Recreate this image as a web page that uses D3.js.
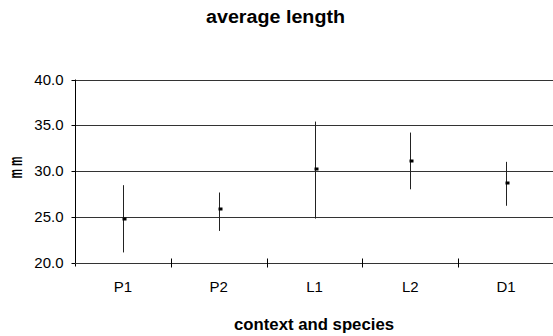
<!DOCTYPE html>
<html>
<head>
<meta charset="utf-8">
<script src="https://cdn.jsdelivr.net/npm/d3@7"></script>
<style>
  body { margin: 0; background: #fff; }
  svg { display: block; font-family: Arial, "Liberation Sans", sans-serif; }
</style>
</head>
<body>
<svg id="chart" width="553" height="336"></svg>
<script>

// values
var categories = ['P1', 'P2', 'L1', 'L2', 'D1'];
var means  = [24.8, 25.8, 30.2, 31.1, 28.7];
var uppers = [28.45, 27.65, 35.4, 34.2, 31.0];
var lowers = [21.1, 23.45, 24.8, 28.0, 26.2];
var yTicks = [20, 25, 30, 35, 40];

var plotLeft = 75, plotRight = 554, plotTop = 79.5, plotBottom = 262.5;

var svg = d3.select('#chart');

var x = d3.scaleBand().domain(categories).range([plotLeft, plotRight]).padding(0);
var y = d3.scaleLinear().domain([20, 40]).range([plotBottom, plotTop]);

// grid lines
svg.append('g')
    .selectAll('line')
    .data(yTicks.slice(1))
    .enter().append('line')
    .attr('x1', plotLeft).attr('x2', plotRight)
    .attr('y1', function(d){ return Math.round(y(d)) + 0.5; })
    .attr('y2', function(d){ return Math.round(y(d)) + 0.5; })
    .attr('stroke', '#333')
    .attr('shape-rendering', 'crispEdges');

// y axis
var yAxis = d3.axisLeft(y).tickValues(yTicks).tickSize(4).tickPadding(8)
    .tickFormat(d3.format('.1f'));
var gy = svg.append('g')
    .attr('transform', 'translate(' + (plotLeft + 0.5) + ',0)')
    .call(yAxis);
gy.select('.domain').remove();
gy.selectAll('.tick line').attr('stroke', '#000');
gy.selectAll('.tick')
    .attr('transform', function(d){ return 'translate(0,' + (Math.round(y(d)) + 0.5) + ')'; });
gy.selectAll('.tick text')
    .style('font-size', '15px')
    .style('font-family', 'Arial, "Liberation Sans", sans-serif')
    .attr('fill', '#000');

svg.append('line')
    .attr('x1', plotLeft + 0.5).attr('x2', plotLeft + 0.5)
    .attr('y1', plotTop).attr('y2', plotBottom + 4)
    .attr('stroke', '#000');

// x axis line and boundary ticks
svg.append('line')
    .attr('x1', plotLeft).attr('x2', plotRight)
    .attr('y1', Math.round(plotBottom) + 0.5).attr('y2', Math.round(plotBottom) + 0.5)
    .attr('stroke', '#333');

var bounds = categories.slice(1).map(function(c){ return x(c); });
svg.append('g')
    .selectAll('line')
    .data(bounds)
    .enter().append('line')
    .attr('x1', function(d){ return Math.round(d) + 0.5; })
    .attr('x2', function(d){ return Math.round(d) + 0.5; })
    .attr('y1', plotBottom - 4).attr('y2', plotBottom + 5)
    .attr('stroke', '#000');

// category labels
svg.append('g')
    .selectAll('text')
    .data(categories)
    .enter().append('text')
    .attr('x', function(d){ return x(d) + x.bandwidth() / 2; })
    .attr('y', 292)
    .attr('text-anchor', 'middle')
    .style('font-size', '15px')
    .text(function(d){ return d; });

// error bars
var rows = categories.map(function(c, i){
    return { cat: c, mean: means[i], hi: uppers[i], lo: lowers[i] };
});

svg.append('g')
    .selectAll('line')
    .data(rows)
    .enter().append('line')
    .attr('x1', function(d){ return Math.round(x(d.cat) + x.bandwidth() / 2) + 0.5; })
    .attr('x2', function(d){ return Math.round(x(d.cat) + x.bandwidth() / 2) + 0.5; })
    .attr('y1', function(d){ return y(d.hi); })
    .attr('y2', function(d){ return y(d.lo); })
    .attr('stroke', '#222');

svg.append('g')
    .selectAll('rect')
    .data(rows)
    .enter().append('rect')
    .attr('x', function(d){ return Math.round(x(d.cat) + x.bandwidth() / 2) - 0.5; })
    .attr('y', function(d){ return Math.round(y(d.mean)) - 1.5; })
    .attr('width', 4).attr('height', 3)
    .attr('fill', '#000');

// titles
svg.append('text')
    .attr('x', 275.5).attr('y', 23)
    .attr('text-anchor', 'middle')
    .attr('textLength', 139).attr('lengthAdjust', 'spacingAndGlyphs')
    .style('font-size', '18px').style('font-weight', 'bold')
    .text('average length');

svg.append('text')
    .attr('x', 314).attr('y', 330)
    .attr('text-anchor', 'middle')
    .attr('textLength', 160).attr('lengthAdjust', 'spacingAndGlyphs')
    .style('font-size', '16px').style('font-weight', 'bold')
    .text('context and species');

svg.append('text')
    .attr('transform', 'translate(22,167.5) rotate(-90)')
    .attr('text-anchor', 'middle')
    .attr('textLength', 22).attr('lengthAdjust', 'spacingAndGlyphs')
    .style('font-size', '19px').style('font-weight', 'bold')
    .text('m m');

</script>
</body>
</html>
